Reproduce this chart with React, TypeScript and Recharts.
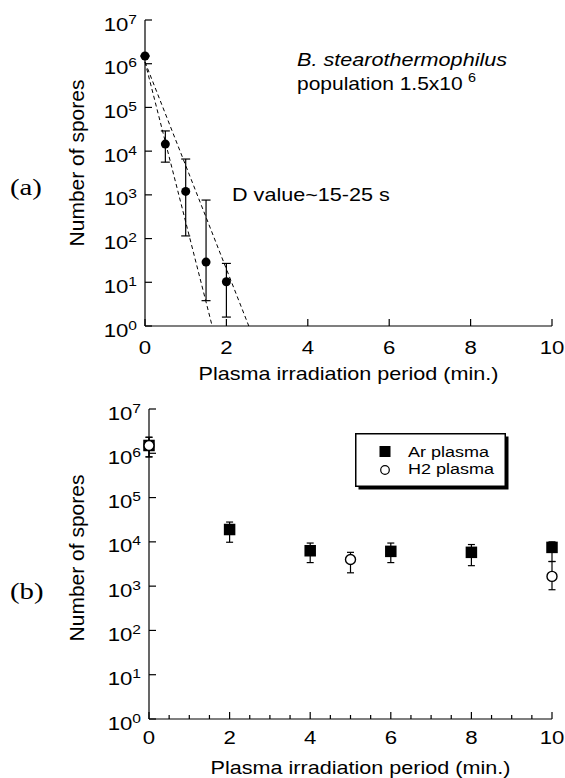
import React from 'react';
import { ScatterChart, Scatter, XAxis, YAxis, ErrorBar, Legend } from 'recharts';

const FONT = '"Liberation Sans", Arial, Helvetica, sans-serif';
const SERIF = '"Liberation Serif", "Times New Roman", serif';
const SX = 1.2; // the original figure is a bit stretched sideways

// (a) survival curve, B. stearothermophilus
const timeA = [0, 0.5, 1, 1.5, 2];
const sporesA = [1.5e6, 1.45e4, 1.2e3, 29, 10.3];
const sporesALow = [1.5e6, 5.6e3, 115, 3.8, 1.6];
const sporesAHigh = [1.5e6, 2.9e4, 6.6e3, 760, 27];

// dashed fit lines (D value ~15 s and ~25 s)
const fitFastX = [0, 1.65];
const fitFastY = [1.1e6, 1];
const fitSlowX = [0, 2.55];
const fitSlowY = [1.1e6, 1];

// (b) Ar plasma
const timeAr = [0, 2, 4, 6, 8, 10];
const sporesAr = [1.5e6, 1.9e4, 6.3e3, 6.1e3, 5.8e3, 7.5e3];
const sporesArLow = [8.3e5, 9.8e3, 3.4e3, 3.4e3, 2.9e3, 3.6e3];
const sporesArHigh = [2.3e6, 2.8e4, 9.4e3, 9.4e3, 8.7e3, 1.0e4];

// (b) H2 plasma
const timeH2 = [0, 5, 10];
const sporesH2 = [1.5e6, 4.0e3, 1.66e3];
const sporesH2Low = [8.3e5, 2.0e3, 830];
const sporesH2High = [2.3e6, 5.8e3, 3.6e3];

const yTicks = [1, 10, 100, 1e3, 1e4, 1e5, 1e6, 1e7];
const xTicksA = [0, 2, 4, 6, 8, 10];
const xTicksB = [0, 0.5, 1, 1.5, 2, 2.5, 3, 3.5, 4, 4.5, 5, 5.5, 6, 6.5, 7, 7.5, 8, 8.5, 9, 9.5, 10];
const xLabelsB = [0, 2, 4, 6, 8, 10];

const toPoints = (xs: number[], ys: number[], lo: number[], hi: number[]) =>
  xs.map((x, i) => ({ x, y: ys[i], err: [ys[i] - lo[i], hi[i] - ys[i]] }));
const toLine = (xs: number[], ys: number[]) => xs.map((x, i) => ({ x, y: ys[i] }));

const dataA = toPoints(timeA, sporesA, sporesALow, sporesAHigh);
const fitFast = toLine(fitFastX, fitFastY);
const fitSlow = toLine(fitSlowX, fitSlowY);
const dataAr = toPoints(timeAr, sporesAr, sporesArLow, sporesArHigh);
const dataH2 = toPoints(timeH2, sporesH2, sporesH2Low, sporesH2High);

// text drawn with the sideways stretch of the original
const SText = ({ x, y, size, anchor = 'start', italic = false, family = FONT, children }: any) => (
  <text transform={`translate(${x} ${y}) scale(${SX} 1)`} textAnchor={anchor} fontSize={size}
    fontFamily={family} fontStyle={italic ? 'italic' : 'normal'} fill="#000">
    {children}
  </text>
);

const LeftTick = (props: any) => {
  const { x, y, payload } = props;
  const exp = Math.round(Math.log10(payload.value));
  return (
    <g>
      <line x1={x} x2={x + 7} y1={y} y2={y} stroke="#000" strokeWidth={1.2} />
      <SText x={x - 8} y={y + 10.5} size={18.5} anchor="end">
        10<tspan dy={-7} fontSize={13}>{exp}</tspan>
      </SText>
    </g>
  );
};

const RightTick = (props: any) => {
  const { x, y } = props;
  return <line x1={x - 7} x2={x} y1={y} y2={y} stroke="#000" strokeWidth={1.2} />;
};

const makeBottomTick = (labels: number[], below: number) => (props: any) => {
  const { x, y, payload } = props;
  const v = payload.value;
  const major = labels.includes(v);
  return (
    <g>
      <line x1={x} x2={x} y1={y} y2={y - (major ? 7 : 4)} stroke="#000" strokeWidth={1.2} />
      {major && <SText x={x} y={y + below} size={18.5} anchor="middle">{v}</SText>}
    </g>
  );
};

const makeTopTick = (labels: number[]) => (props: any) => {
  const { x, y, payload } = props;
  const major = labels.includes(payload.value);
  return <line x1={x} x2={x} y1={y} y2={y + (major ? 7 : 4)} stroke="#000" strokeWidth={1.2} />;
};

const yTitle = (shift: number) => (props: any) => {
  const vb = props.viewBox;
  const cy = vb.y + vb.height / 2 + shift;
  return (
    <text x={84} y={cy} transform={`rotate(-90, 84, ${cy})`} textAnchor="middle" fontSize={21} fontFamily={FONT} fill="#000">
      Number of spores
    </text>
  );
};

const xTitle = (below: number, dx: number) => (props: any) => {
  const vb = props.viewBox;
  return (
    <SText x={vb.x + vb.width / 2 + dx} y={vb.y + below} size={18} anchor="middle">
      Plasma irradiation period (min.)
    </SText>
  );
};

const LegendBox = (props: any) => {
  const items = props.payload || [];
  return (
    <svg width={156} height={58} style={{ display: 'block' }}>
      <rect x={3.5} y={3.5} width={150} height={53} fill="#000" />
      <rect x={0.75} y={0.75} width={149.5} height={52.5} fill="#fff" stroke="#000" strokeWidth={1.5} />
      {items.map((it: any, i: number) => (
        <g key={it.value}>
          {i === 0 ? (
            <rect x={24.5} y={13} width={11} height={11} fill="#000" />
          ) : (
            <circle cx={30} cy={37} r={4.3} fill="#fff" stroke="#000" strokeWidth={1.2} />
          )}
          <SText x={53} y={i === 0 ? 24 : 41} size={15}>{it.value}</SText>
        </g>
      ))}
    </svg>
  );
};

const dot = (p: any) => <circle cx={p.cx} cy={p.cy} r={4.5} fill="#000" />;
const square = (p: any) => <rect x={p.cx - 5.75} y={p.cy - 5.75} width={11.5} height={11.5} fill="#000" />;
const ring = (p: any) => <circle cx={p.cx} cy={p.cy} r={5} fill="#fff" stroke="#000" strokeWidth={1.4} />;
const nothing = () => <g />;

const axisLine = { stroke: '#000', strokeWidth: 1.2 };
const dashed = { stroke: '#000', strokeWidth: 1, strokeDasharray: '4 3' };

export default function App() {
  return (
    <div style={{ position: 'absolute', left: 0, top: 0, width: 565, height: 778, background: '#fff', overflow: 'hidden' }}>
      <div style={{ position: 'absolute', left: 0, top: 0 }}>
        <ScatterChart width={565} height={390} margin={{ top: 20, right: 13, left: 0, bottom: 0 }}>
          <XAxis dataKey="x" type="number" domain={[0, 10]} ticks={xTicksA} interval={0} height={64}
            axisLine={axisLine} tickLine={false} tickSize={0} tickMargin={0}
            tick={makeBottomTick(xTicksA, 28)} label={xTitle(54, 0)} />
          <XAxis xAxisId="top" orientation="top" dataKey="x" type="number" domain={[0, 10]} ticks={xTicksA} interval={0} height={0}
            axisLine={axisLine} tickLine={false} tickSize={0} tickMargin={0} tick={makeTopTick(xTicksA)} />
          <YAxis dataKey="y" type="number" scale="log" domain={[1, 1e7]} ticks={yTicks} interval={0} width={145} allowDataOverflow
            axisLine={axisLine} tickLine={false} tickSize={0} tickMargin={0} tick={LeftTick} label={yTitle(-10)} />
          <YAxis yAxisId="right" orientation="right" dataKey="y" type="number" scale="log" domain={[1, 1e7]} ticks={yTicks} interval={0} width={0} allowDataOverflow
            axisLine={axisLine} tickLine={false} tickSize={0} tickMargin={0} tick={RightTick} />
          <Scatter data={fitFast} shape={nothing} line={dashed} isAnimationActive={false} legendType="none" />
          <Scatter data={fitSlow} shape={nothing} line={dashed} isAnimationActive={false} legendType="none" />
          <Scatter data={dataA} shape={dot} isAnimationActive={false}>
            <ErrorBar dataKey="err" direction="y" width={4.5} stroke="#000" strokeWidth={1.2} />
          </Scatter>
        </ScatterChart>
      </div>

      <div style={{ position: 'absolute', left: 0, top: 380 }}>
        <ScatterChart width={565} height={398} margin={{ top: 29, right: 13, left: 0, bottom: 0 }}>
          <XAxis dataKey="x" type="number" domain={[0, 10]} ticks={xTicksB} interval={0} height={59}
            axisLine={axisLine} tickLine={false} tickSize={0} tickMargin={0}
            tick={makeBottomTick(xLabelsB, 25)} label={xTitle(55, 10)} />
          <XAxis xAxisId="top" orientation="top" dataKey="x" type="number" domain={[0, 10]} ticks={xTicksB} interval={0} height={0}
            axisLine={axisLine} tickLine={false} tickSize={0} tickMargin={0} tick={makeTopTick(xLabelsB)} />
          <YAxis dataKey="y" type="number" scale="log" domain={[1, 1e7]} ticks={yTicks} interval={0} width={149} allowDataOverflow
            axisLine={axisLine} tickLine={false} tickSize={0} tickMargin={0} tick={LeftTick} label={yTitle(-6)} />
          <YAxis yAxisId="right" orientation="right" dataKey="y" type="number" scale="log" domain={[1, 1e7]} ticks={yTicks} interval={0} width={0} allowDataOverflow
            axisLine={axisLine} tickLine={false} tickSize={0} tickMargin={0} tick={RightTick} />
          <Scatter name="Ar plasma" data={dataAr} shape={square} isAnimationActive={false}>
            <ErrorBar dataKey="err" direction="y" width={3.5} stroke="#000" strokeWidth={1.2} />
          </Scatter>
          <Scatter name="H2 plasma" data={dataH2} shape={ring} isAnimationActive={false}>
            <ErrorBar dataKey="err" direction="y" width={3.5} stroke="#000" strokeWidth={1.2} />
          </Scatter>
          <Legend layout="horizontal" verticalAlign="middle" align="center" content={LegendBox}
            wrapperStyle={{ left: 355, top: 53, width: 156, height: 58 }} />
        </ScatterChart>
      </div>

      <svg width={565} height={778} style={{ position: 'absolute', left: 0, top: 0, pointerEvents: 'none' }}>
        <SText x={10} y={195} size={24} family={SERIF}>(a)</SText>
        <SText x={10} y={599} size={24} family={SERIF}>(b)</SText>
        <SText x={297} y={66} size={18} italic>B. stearothermophilus</SText>
        <SText x={297} y={90} size={17.5}>population 1.5x10</SText>
        <SText x={468} y={81.5} size={12}>6</SText>
        <SText x={232} y={201} size={18}>D value~15-25 s</SText>
      </svg>
    </div>
  );
}
